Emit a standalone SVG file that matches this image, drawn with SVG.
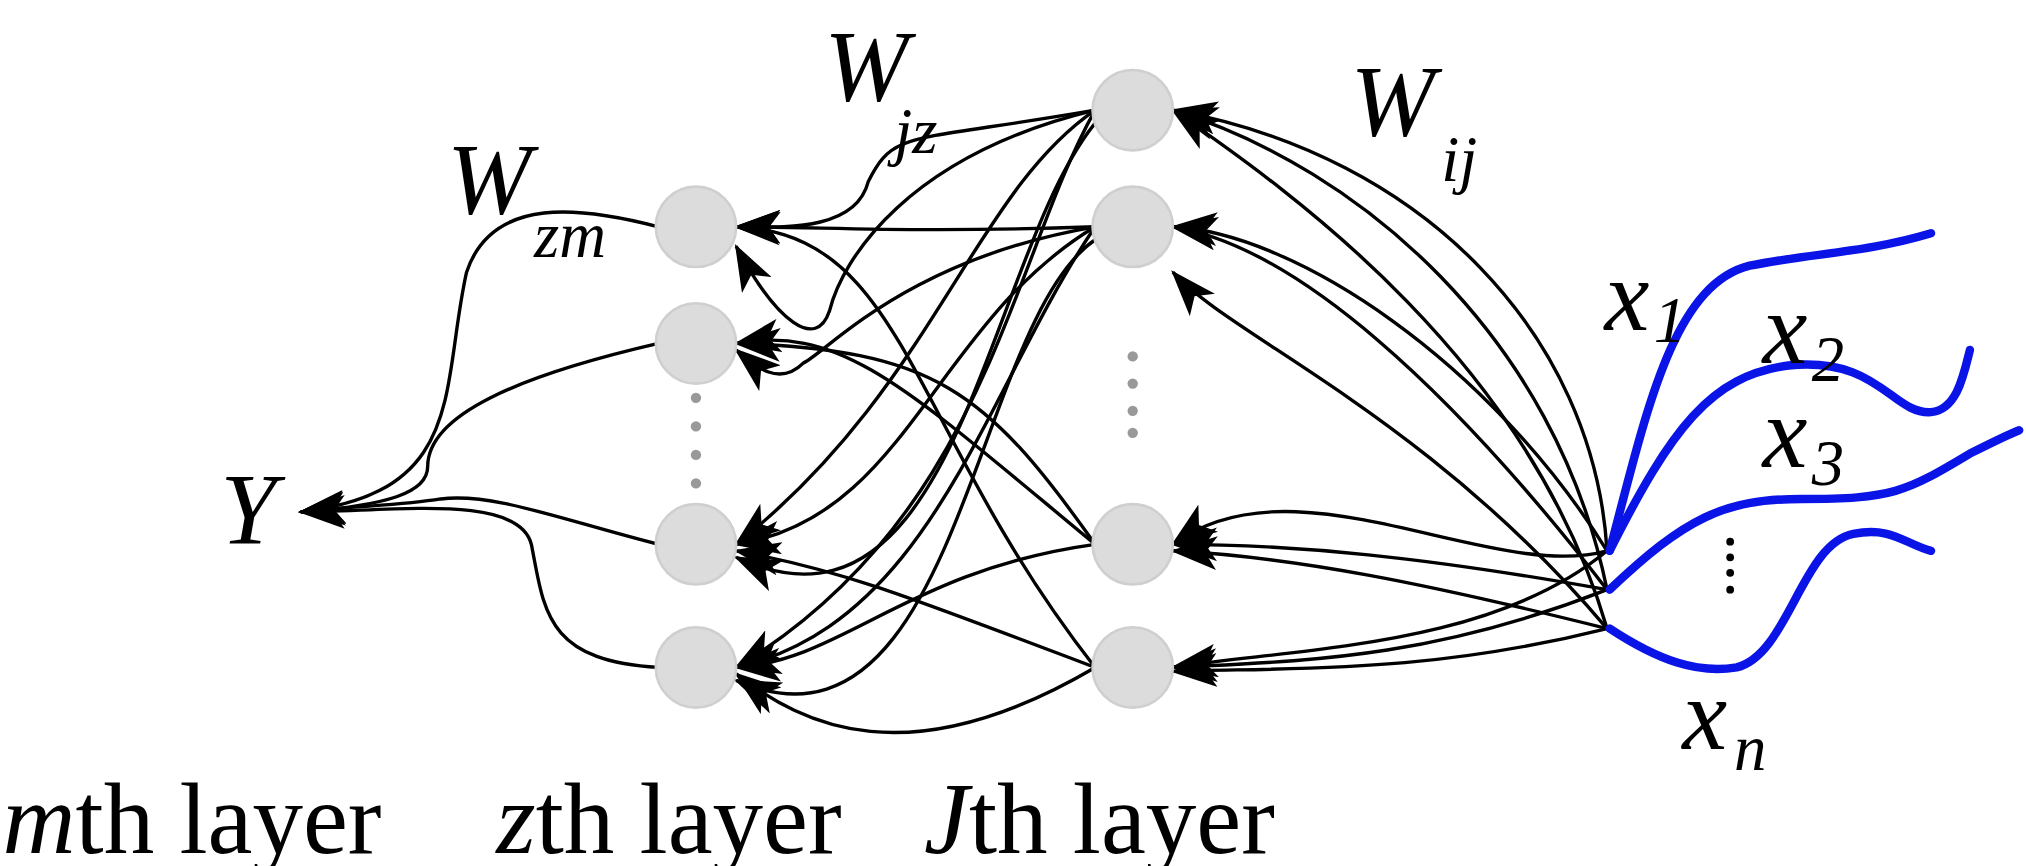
<svg xmlns="http://www.w3.org/2000/svg" width="2026" height="866" viewBox="0 0 2026 866">
<style>
.n{fill:#dcdcdc;stroke:#cfcfcf;stroke-width:2}
.e{fill:none;stroke:#000;stroke-width:2.6;marker-end:url(#a2)}
.b{fill:none;stroke:#0a14e6;stroke-width:6.5;stroke-linecap:round}
.t{font-family:"Liberation Serif",serif;font-size:78px;font-style:italic}
.s{font-family:"Liberation Serif",serif;font-size:50px;font-style:italic}
.l{font-family:"Liberation Serif",serif;font-size:78px}
.d{fill:#999}
</style>
<defs><marker id="a2" markerWidth="36" markerHeight="26" refX="34" refY="13" orient="auto" markerUnits="userSpaceOnUse"><path d="M0,0 L36,13 L0,26 L9,13Z" fill="#000"/></marker></defs>
<rect width="2026" height="866" fill="#fff"/>
<g transform="scale(1.296)">
<g id="connectors">
<path class="e" d="M1240,425 C1230,260 1100,120 905,85"/>
<path class="e" d="M1240,455 C1200,260 1050,130 905,85"/>
<path class="e" d="M1240,485 C1180,280 1000,150 905,85"/>
<path class="e" d="M1240,425 C1150,280 1000,180 905,175"/>
<path class="e" d="M1240,455 C1120,300 1000,190 905,175"/>
<path class="e" d="M1240,485 C1100,320 950,260 905,210"/>
<path class="e" d="M1240,425 C1150,450 1000,350 905,420"/>
<path class="e" d="M1240,455 C1100,430 1000,420 905,420"/>
<path class="e" d="M1240,485 C1100,450 1000,430 905,425"/>
<path class="e" d="M1240,425 C1150,500 1000,500 905,515"/>
<path class="e" d="M1240,455 C1100,510 1000,510 905,515"/>
<path class="e" d="M1240,485 C1100,520 1000,515 905,518"/>
<path class="e" d="M845,85 C700,110 690,100 670,140 C660,180 600,175 568,175"/>
<path class="e" d="M845,85 C700,120 650,200 640,240 C630,270 600,250 568,190"/>
<path class="e" d="M845,175 C700,180 640,175 568,175"/>
<path class="e" d="M845,175 C700,200 640,270 620,280 C600,300 580,280 568,270"/>
<path class="e" d="M845,85 C750,150 720,300 568,420"/>
<path class="e" d="M845,175 C720,250 700,400 568,420"/>
<path class="e" d="M845,85 C780,200 760,400 568,515"/>
<path class="e" d="M845,175 C760,300 720,480 568,515"/>
<path class="e" d="M845,420 C700,440 650,510 568,515"/>
<path class="e" d="M845,515 C700,600 620,560 568,520"/>
<path class="e" d="M845,515 C700,330 700,180 568,175"/>
<path class="e" d="M845,420 C700,300 650,250 568,265"/>
<path class="e" d="M845,515 C700,460 650,440 568,425"/>
<path class="e" d="M845,420 C760,300 720,270 568,265"/>
<path class="e" d="M845,185 C750,250 740,600 568,525"/>
<path class="e" d="M845,95 C760,200 740,510 568,430"/>
<path class="e" d="M508,175 C450,160 380,150 360,210 C340,300 360,380 232,395"/>
<path class="e" d="M508,265 C400,290 330,320 330,360 C330,380 300,390 232,395"/>
<path class="e" d="M508,420 C430,400 380,380 340,385 C310,390 280,390 232,395"/>
<path class="e" d="M508,515 C420,510 420,470 410,420 C400,380 300,395 232,395"/>
</g>
<g id="inputs">
<path class="b" d="M1242,425 C1270,320 1290,220 1350,205 C1400,195 1440,195 1490,180"/>
<path class="b" d="M1242,425 C1290,330 1320,290 1380,282 C1450,275 1460,320 1490,318 C1510,316 1515,290 1520,270"/>
<path class="b" d="M1242,455 C1300,400 1330,385 1390,385 C1460,385 1470,380 1520,350 C1540,340 1550,335 1558,332"/>
<path class="b" d="M1242,485 C1280,510 1310,520 1340,515 C1380,505 1390,420 1430,412 C1460,406 1470,420 1490,425"/>
</g>
<g id="z1"><circle class="n" cx="537" cy="175" r="31"/></g>
<g id="z2"><circle class="n" cx="537" cy="265" r="31"/></g>
<g id="z3"><circle class="n" cx="537" cy="420" r="31"/></g>
<g id="z4"><circle class="n" cx="537" cy="515" r="31"/></g>
<g id="j1"><circle class="n" cx="874" cy="85" r="31"/></g>
<g id="j2"><circle class="n" cx="874" cy="175" r="31"/></g>
<g id="j3"><circle class="n" cx="874" cy="420" r="31"/></g>
<g id="j4"><circle class="n" cx="874" cy="515" r="31"/></g>
<g id="dots">
<circle class="d" cx="537" cy="307" r="4"/><circle class="d" cx="537" cy="329" r="4"/><circle class="d" cx="537" cy="351" r="4"/><circle class="d" cx="537" cy="373" r="4"/>
<circle class="d" cx="874" cy="275" r="4"/><circle class="d" cx="874" cy="296" r="4"/><circle class="d" cx="874" cy="317" r="4"/><circle class="d" cx="874" cy="334" r="4"/>
<circle cx="1335" cy="418" r="3"/><circle cx="1335" cy="430" r="3"/><circle cx="1335" cy="442" r="3"/><circle cx="1335" cy="455" r="3"/>
</g>
<g id="labels">
<text class="t" x="636" y="78">W</text><text class="s" x="690" y="118">jz</text>
<text class="t" x="345" y="165">W</text><text class="s" x="412" y="198">zm</text>
<text class="t" x="1042" y="105">W</text><text class="s" x="1112" y="140">ij</text>
<text class="t" x="1238" y="255">x</text><text class="s" x="1276" y="264">1</text>
<text class="t" x="1360" y="280">x</text><text class="s" x="1398" y="294">2</text>
<text class="t" x="1360" y="360">x</text><text class="s" x="1398" y="374">3</text>
<text class="t" x="1298" y="578">x</text><text class="s" x="1338" y="594">n</text>
<text class="t" x="170" y="420">Y</text>
<text class="l" x="2" y="658"><tspan font-style="italic">m</tspan>th layer</text>
<text class="l" x="383" y="658"><tspan font-style="italic">z</tspan>th layer</text>
<text class="l" x="713" y="658"><tspan font-style="italic">J</tspan>th layer</text>
</g>
</g>
</svg>
